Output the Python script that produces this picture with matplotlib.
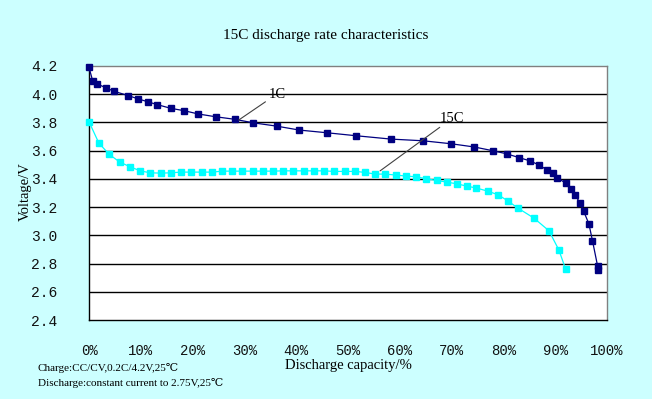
import matplotlib
matplotlib.use("Agg")
import matplotlib.pyplot as plt

# ---- data ----
cap_1c = [0.0, 0.7, 1.5, 3.2, 4.9, 7.6, 9.4, 11.3, 13.2, 15.8, 18.4, 21.1, 24.5, 28.2,
          31.6, 36.2, 40.6, 45.9, 51.5, 58.3, 64.5, 69.9, 74.4, 77.9, 80.6, 83.1, 85.1,
          86.8, 88.5, 89.5, 90.4, 92.1, 93.0, 93.8, 94.8, 95.5, 96.5, 97.2, 98.2, 98.3]
volt_1c = [4.19, 4.096, 4.075, 4.046, 4.02, 3.99, 3.968, 3.947, 3.926, 3.90, 3.883, 3.86,
           3.84, 3.822, 3.798, 3.774, 3.746, 3.727, 3.706, 3.682, 3.67, 3.649, 3.626, 3.60,
           3.578, 3.55, 3.528, 3.50, 3.462, 3.439, 3.408, 3.368, 3.328, 3.287, 3.23, 3.17,
           3.082, 2.961, 2.78, 2.755]

cap_15c = [0.0, 1.9, 3.9, 5.9, 7.9, 9.9, 11.8, 13.9, 15.8, 17.8, 19.7, 21.8, 23.8, 25.7,
           27.7, 29.6, 31.6, 33.6, 35.6, 37.4, 39.4, 41.5, 43.4, 45.4, 47.3, 49.5, 51.4,
           53.3, 55.2, 57.2, 59.3, 61.2, 63.1, 65.1, 67.1, 69.1, 71.0, 72.9, 74.8, 77.0,
           79.0, 80.9, 82.8, 85.9, 88.8, 90.7, 92.0]
volt_15c = [3.805, 3.654, 3.574, 3.52, 3.486, 3.457, 3.443, 3.441, 3.443, 3.448, 3.448,
            3.448, 3.448, 3.455, 3.455, 3.455, 3.455, 3.455, 3.455, 3.457, 3.457, 3.457,
            3.457, 3.457, 3.453, 3.453, 3.453, 3.446, 3.434, 3.434, 3.427, 3.42, 3.415,
            3.401, 3.389, 3.377, 3.365, 3.349, 3.335, 3.313, 3.287, 3.243, 3.193, 3.122,
            3.032, 2.897, 2.762]

x_ticks = [0, 10, 20, 30, 40, 50, 60, 70, 80, 90, 100]
x_tick_labels = ["0%", "10%", "20%", "30%", "40%", "50%", "60%", "70%", "80%", "90%", "100%"]
y_ticks = [2.4, 2.6, 2.8, 3.0, 3.2, 3.4, 3.6, 3.8, 4.0, 4.2]
y_tick_labels = ["2.4", "2.6", "2.8", "3.0", "3.2", "3.4", "3.6", "3.8", "4.0", "4.2"]

title = "15C discharge rate characteristics"
xlabel = "Discharge capacity/%"
ylabel = "Voltage/V"
note1 = "Charge:CC/CV,0.2C/4.2V,25\u2103"
note2 = "Discharge:constant current to 2.75V,25\u2103"

bg = "#CCFFFF"
serif = ["Liberation Serif", "DejaVu Serif"]
mono = ["Liberation Mono", "DejaVu Sans Mono"]

fig = plt.figure(figsize=(6.52, 3.99), dpi=100, facecolor=bg)
ax = fig.add_axes([89 / 652, 1 - 320 / 399, (607 - 89) / 652, (320 - 66) / 399])
ax.set_facecolor("white")

for y in y_ticks[1:-1]:
    ax.axhline(y, color="black", lw=1.0, zorder=1)

ax.plot(cap_1c, volt_1c, color="#000080", lw=0.9, marker="s", ms=4.8,
        mec="#000080", mfc="#000080", zorder=3, clip_on=False)
ax.plot(cap_15c, volt_15c, color="#00FFFF", lw=0.9, marker="s", ms=4.8,
        mec="#00FFFF", mfc="#00FFFF", zorder=3, clip_on=False)

ax.set_xlim(0, 100)
ax.set_ylim(2.4, 4.2)
ax.set_xticks(x_ticks)
ax.set_xticklabels(x_tick_labels, family=mono, fontsize=10, color="#111111")
ax.set_yticks(y_ticks)
ax.set_yticklabels(y_tick_labels, family=mono, fontsize=10.5, color="#111111")
ax.tick_params(axis="both", length=0)
ax.tick_params(axis="y", pad=23)
ax.tick_params(axis="x", pad=17)

for s in ["top", "right"]:
    ax.spines[s].set_color("#808080")
for s in ["left", "bottom"]:
    ax.spines[s].set_color("black")
for s in ax.spines.values():
    s.set_linewidth(1.0)

# annotations
ax.annotate("1C", xy=(28.9, 3.817), xytext=(34.6, 3.955),
            fontsize=10.5, family=serif, va="bottom", ha="left",
            arrowprops=dict(arrowstyle="-", color="#404040", lw=0.8, shrinkA=0, shrinkB=0))
ax.annotate("15C", xy=(56.2, 3.457), xytext=(67.8, 3.785),
            fontsize=10.5, family=serif, va="bottom", ha="left",
            arrowprops=dict(arrowstyle="-", color="#404040", lw=0.8, shrinkA=0, shrinkB=0))

fig.text(326 / 652, 1 - 35 / 399, title, ha="center", va="center",
         family=serif, fontsize=11)
fig.text(348 / 652, 1 - 365 / 399, xlabel, ha="center", va="center",
         family=serif, fontsize=10.5)
fig.text(25 / 652, 1 - 192 / 399, ylabel, ha="center", va="center",
         rotation=90, family=serif, fontsize=10.5)
fig.text(38 / 652, 1 - 368 / 399, note1, ha="left", va="center",
         family=serif, fontsize=8)
fig.text(38 / 652, 1 - 383 / 399, note2, ha="left", va="center",
         family=serif, fontsize=8)

fig.savefig("out.png", dpi=100, facecolor=bg)
